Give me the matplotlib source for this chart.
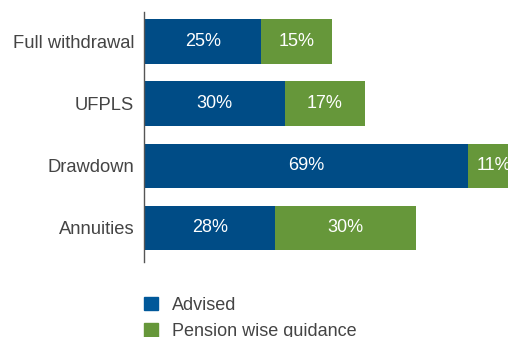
import matplotlib
matplotlib.use("Agg")
import matplotlib.pyplot as plt
from matplotlib.patches import Patch

categories = ["Full withdrawal", "UFPLS", "Drawdown", "Annuities"]
advised = [25, 30, 69, 28]
guidance = [15, 17, 11, 30]
series_names = ["Advised", "Pension wise guidance"]

blue = "#004C86"
green = "#66973A"

plt.rcParams['font.family'] = ['Liberation Sans', 'DejaVu Sans']

fig = plt.figure(figsize=(5.08, 3.37), dpi=100)
ax = fig.add_axes([144/508, 75/337, 1 - 144/508, 250/337])

y = list(range(len(categories)))
h = 0.72
ax.barh(y, advised, height=h, color=blue)
ax.barh(y, guidance, left=advised, height=h, color=green)

for i in y:
    ax.text(advised[i] / 2, i, f"{advised[i]}%", ha="center", va="center",
            color="white", fontsize=13, clip_on=False)
    ax.text(advised[i] + guidance[i] / 2, i, f"{guidance[i]}%", ha="center",
            va="center", color="white", fontsize=13, clip_on=False)

ax.set_xlim(0, 363 / 4.68)
ax.set_ylim(3.55, -0.48)
ax.set_yticks(y)
ax.set_yticklabels(categories, fontsize=13.2, color="#444444")
ax.tick_params(axis="y", length=0, pad=7)
ax.set_xticks([])
for s in ["top", "right", "bottom"]:
    ax.spines[s].set_visible(False)
ax.spines["left"].set_color("#555555")
ax.spines["left"].set_linewidth(1)

handles = [Patch(color="#00589A"), Patch(color=green)]
fig.legend(handles, series_names, loc="upper left",
           bbox_to_anchor=(140/508, 1 - 293/337), frameon=False,
           fontsize=13, handlelength=0.8, handleheight=0.8,
           handletextpad=0.75, labelspacing=0.5, labelcolor="#444444",
           borderaxespad=0, borderpad=0.2)

fig.savefig("out.png", dpi=100)
